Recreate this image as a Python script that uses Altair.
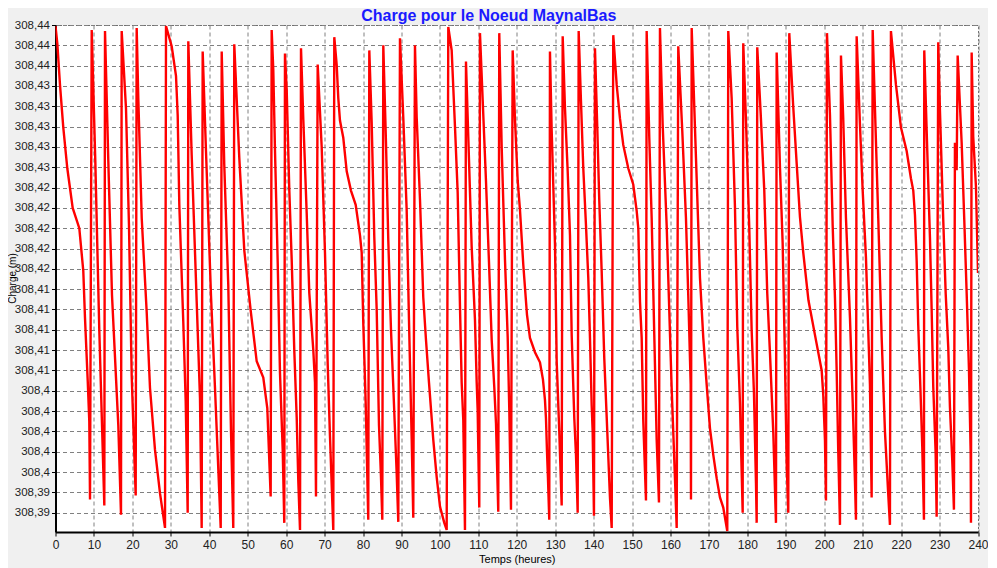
import altair as alt
import pandas as pd

hours = [
    0.00, 0.47, 1.17, 2.03, 3.07, 4.47, 6.19, 7.23, 7.67, 8.38, 8.79, 8.98,
    9.42, 10.35, 11.39, 12.70,
    12.88, 13.74, 14.70, 16.34, 17.04,
    17.22, 18.34, 19.12, 19.82, 20.86,
    21.12, 21.54, 22.43, 23.73, 24.58, 25.88, 27.19, 28.49,
    28.75, 30.23, 31.35, 31.79, 32.21, 33.25, 33.87, 34.39,
    34.55, 35.43, 36.73, 37.59, 38.03,
    38.29, 39.15, 40.45, 41.49, 42.98,
    43.24, 43.91, 44.95, 45.66, 46.25,
    46.51, 47.82, 49.12, 50.78, 52.34, 54.06, 55.10, 55.98,
    56.24, 56.66, 57.10, 57.81, 58.40, 59.11, 59.52,
    59.70, 60.15, 60.82, 61.45, 62.12, 62.75, 63.16, 63.61,
    63.87, 64.47, 65.35, 66.03, 67.07, 67.51, 67.77,
    68.21, 69.25, 70.11, 70.81, 71.41, 72.27,
    72.53, 73.15, 73.57, 74.01, 74.87, 75.76, 76.87, 78.10, 79.22, 79.66, 80.07, 80.70, 81.37,
    81.64, 82.26, 82.94, 83.56, 84.16, 84.68, 85.02,
    85.28, 85.98, 86.58, 87.28, 87.88, 88.76, 89.18,
    89.62, 90.48, 91.36, 91.96, 92.67, 93.08,
    93.52, 93.97, 94.83, 95.68, 96.39, 97.17, 98.28, 99.17, 100.03, 101.15, 101.77,
    102.19, 103.07, 103.93, 104.63, 105.23, 105.67, 106.09, 106.53,
    106.79, 107.39, 108.27, 109.13, 109.58, 109.83, 110.25,
    110.43, 111.14, 111.99, 112.85, 113.48, 114.15, 114.60, 115.19,
    115.45, 116.08, 116.94, 117.64, 118.06, 118.50,
    118.94, 119.54, 120.24, 120.84, 121.70, 122.66, 123.44, 124.74, 126.04, 126.82, 127.34,
    127.60, 127.86, 128.12, 128.46,
    128.64, 129.09, 129.95, 130.39, 131.06, 131.69,
    131.95, 132.55, 133.25, 133.85, 134.29, 134.97, 135.41, 135.85,
    136.11, 136.71, 137.31, 138.01, 138.61, 139.05, 139.49, 139.75, 140.09,
    140.35, 140.95, 141.47, 142.09, 142.77, 143.55, 144.25, 144.70,
    145.11, 146.00, 146.85, 147.71, 149.01, 150.31, 151.20, 151.62, 152.06, 152.50, 152.92, 153.62,
    153.80, 154.48, 155.10, 155.78, 156.40, 157.00,
    157.26, 157.96, 159.00, 159.68, 160.30, 161.16, 161.61,
    162.02, 163.06, 164.02, 164.62, 165.25, 165.33,
    165.51, 166.63, 167.67, 168.53, 169.41, 170.27, 171.13, 172.01, 172.87, 173.73, 174.77,
    175.03, 175.91, 176.77, 177.37, 178.07, 178.78,
    178.93, 179.63, 180.49, 181.11, 181.71, 182.24, 182.42,
    182.57, 183.46, 184.39, 185.17, 185.88, 186.74, 187.44,
    187.62, 188.48, 189.18, 189.78, 190.22, 190.64,
    190.90, 191.94, 192.82, 193.68, 194.54, 195.89, 197.58, 199.33, 199.74, 200.19, 200.45,
    200.71, 201.49, 202.19, 202.79, 203.23, 203.64, 204.09,
    204.35, 204.94, 205.65, 206.69, 207.39, 207.99, 208.25,
    208.43, 209.29, 210.00, 210.85, 211.45, 211.89, 212.33,
    212.60, 213.19, 214.05, 214.94, 215.79, 216.65, 217.09,
    217.35, 218.66, 219.96, 221.44, 222.56, 223.16, 223.60, 224.04, 224.45, 225.03, 225.50, 225.94,
    226.02, 226.90, 227.50, 227.94, 228.36, 228.98, 229.24,
    229.66, 230.10, 230.96, 231.59, 232.26, 232.70, 233.30, 233.74,
    234.00, 234.45, 234.71, 235.75, 236.43, 237.05, 237.65, 238.09, 238.17,
    238.35, 238.76, 239.47, 240.00,
]

charge = [
    308.4399, 308.4382, 308.4341, 308.4299, 308.4259, 308.4220, 308.4200, 308.4158, 308.4112, 308.4050, 308.4010, 308.3933,
    308.4395, 308.4267, 308.4100, 308.3927,
    308.4394, 308.4266, 308.4134, 308.4006, 308.3918,
    308.4394, 308.4318, 308.4202, 308.4055, 308.3937,
    308.4397, 308.4328, 308.4210, 308.4117, 308.4043, 308.3982, 308.3939, 308.3905,
    308.4399, 308.4379, 308.4350, 308.4311, 308.4223, 308.4107, 308.4030, 308.3920,
    308.4384, 308.4272, 308.4128, 308.4033, 308.3905,
    308.4374, 308.4276, 308.4134, 308.4043, 308.3905,
    308.4374, 308.4262, 308.4144, 308.4000, 308.3905,
    308.4381, 308.4269, 308.4178, 308.4119, 308.4069, 308.4053, 308.4023, 308.3936,
    308.4395, 308.4356, 308.4277, 308.4166, 308.4058, 308.3982, 308.3910,
    308.4372, 308.4336, 308.4238, 308.4169, 308.4080, 308.4014, 308.3952, 308.3903,
    308.4377, 308.4307, 308.4215, 308.4136, 308.4080, 308.4048, 308.3936,
    308.4361, 308.4280, 308.4176, 308.4067, 308.3995, 308.3903,
    308.4388, 308.4361, 308.4328, 308.4306, 308.4289, 308.4256, 308.4237, 308.4223, 308.4193, 308.4176, 308.4107, 308.4028, 308.3913,
    308.4375, 308.4304, 308.4191, 308.4120, 308.4006, 308.3955, 308.3913,
    308.4380, 308.4284, 308.4188, 308.4100, 308.4044, 308.3959, 308.3911,
    308.4387, 308.4309, 308.4218, 308.4110, 308.3992, 308.3915,
    308.4380, 308.4309, 308.4228, 308.4132, 308.4090, 308.4048, 308.3992, 308.3955, 308.3926, 308.3910, 308.3903,
    308.4398, 308.4375, 308.4300, 308.4235, 308.4123, 308.4048, 308.4011, 308.3903,
    308.4364, 308.4290, 308.4182, 308.4110, 308.4048, 308.4021, 308.3925,
    308.4392, 308.4326, 308.4247, 308.4159, 308.4090, 308.4044, 308.4008, 308.3921,
    308.4392, 308.4280, 308.4169, 308.4093, 308.4021, 308.3923,
    308.4375, 308.4307, 308.4247, 308.4218, 308.4164, 308.4115, 308.4092, 308.4078, 308.4068, 308.4051, 308.4031,
    308.4013, 308.3981, 308.3954, 308.3913,
    308.4374, 308.4296, 308.4184, 308.4069, 308.4000, 308.3927,
    308.4389, 308.4318, 308.4256, 308.4193, 308.4095, 308.4013, 308.3977, 308.3920,
    308.4394, 308.4325, 308.4259, 308.4203, 308.4151, 308.4092, 308.4026, 308.4000, 308.3917,
    308.4377, 308.4299, 308.4227, 308.4158, 308.4072, 308.4000, 308.3935, 308.3905,
    308.4390, 308.4341, 308.4308, 308.4282, 308.4259, 308.4243, 308.4217, 308.4200, 308.4128, 308.4092, 308.4010, 308.3932,
    308.4394, 308.4289, 308.4210, 308.4095, 308.3992, 308.3930,
    308.4397, 308.4302, 308.4203, 308.4119, 308.4043, 308.3954, 308.3905,
    308.4379, 308.4296, 308.4210, 308.4134, 308.4046, 308.3933,
    308.4397, 308.4269, 308.4151, 308.4092, 308.4046, 308.4003, 308.3977, 308.3954, 308.3935, 308.3925, 308.3902,
    308.4394, 308.4328, 308.4221, 308.4103, 308.4028, 308.3920,
    308.4382, 308.4307, 308.4201, 308.4100, 308.4038, 308.3949, 308.3910,
    308.4378, 308.4313, 308.4238, 308.4136, 308.4077, 308.3999, 308.3910,
    308.4373, 308.4260, 308.4185, 308.4070, 308.3969, 308.3920,
    308.4392, 308.4319, 308.4264, 308.4211, 308.4176, 308.4129, 308.4095, 308.4060, 308.4036, 308.3991, 308.3932,
    308.4392, 308.4311, 308.4203, 308.4131, 308.4060, 308.3981, 308.3908,
    308.4370, 308.4308, 308.4210, 308.4112, 308.4030, 308.3951, 308.3913,
    308.4389, 308.4302, 308.4237, 308.4171, 308.4099, 308.4046, 308.3935,
    308.4395, 308.4318, 308.4210, 308.4092, 308.4000, 308.3938, 308.3908,
    308.4394, 308.4341, 308.4299, 308.4276, 308.4249, 308.4237, 308.4213, 308.4168, 308.4105, 308.4041, 308.3985, 308.3913,
    308.4375, 308.4264, 308.4191, 308.4120, 308.4044, 308.3979, 308.3916,
    308.4383, 308.4316, 308.4208, 308.4136, 308.4083, 308.4024, 308.3972, 308.3923,
    308.4284, 308.4257, 308.4370, 308.4284, 308.4208, 308.4136, 308.4061, 308.3979, 308.3910,
    308.4373, 308.4290, 308.4241, 308.4156,
]

x_ticks = [0, 10, 20, 30, 40, 50, 60, 70, 80, 90, 100, 110, 120,
           130, 140, 150, 160, 170, 180, 190, 200, 210, 220, 230, 240]
y_ticks = [308.392, 308.394, 308.396, 308.398, 308.400, 308.402, 308.404,
           308.406, 308.408, 308.410, 308.412, 308.414, 308.416, 308.418,
           308.420, 308.422, 308.424, 308.426, 308.428, 308.430, 308.432,
           308.434, 308.436, 308.438, 308.440]

df = pd.DataFrame({"t": hours, "h": charge})

chart = alt.Chart(df).mark_line(color="#ff0000", strokeWidth=2.4, clip=True).encode(
    x=alt.X("t:Q",
            scale=alt.Scale(domain=[0, 240], nice=False, zero=False),
            axis=alt.Axis(values=x_ticks, title="Temps (heures)", labelFlush=False,
                          tickSize=4, labelPadding=3, titlePadding=3, titleFontSize=11)),
    y=alt.Y("h:Q",
            scale=alt.Scale(domain=[308.3901, 308.44], nice=False, zero=False),
            axis=alt.Axis(values=y_ticks, title="Charge (m)", labelFlush=False,
                          labelExpr="replace(format(datum.value, '.2~f'), '.', ',')",
                          tickSize=4, labelPadding=2, labelFontSize=11.5,
                          titleFontSize=10,
                          titleX=-38, titleY=253, titleAlign="center", titleBaseline="bottom")),
).properties(
    width=922.5,
    height=507,
    autosize=alt.AutoSizeParams(type="none"),
    padding={"left": 47.5, "top": 17, "right": 10, "bottom": 36},
    background="#f0f0f0",
    title=alt.TitleParams("Charge pour le Noeud MaynalBas", color="#1a1aff",
                          font="Liberation Sans", fontSize=16, fontWeight="bold",
                          anchor="middle", dx=-28, offset=-5),
).configure_view(
    fill="white", stroke="#707070", strokeDash=[2, 2], strokeWidth=1
).configure_axis(
    grid=True, gridColor="#808080", gridDash=[4, 3], gridWidth=1,
    domainColor="black", domainWidth=2, tickColor="black",
    labelFont="Liberation Sans", labelFontSize=12, labelColor="#222222",
    titleFont="Liberation Sans", titleFontWeight="normal", titleColor="black",
)

chart.save("out.html", embed_options={"renderer": "svg", "actions": False})
